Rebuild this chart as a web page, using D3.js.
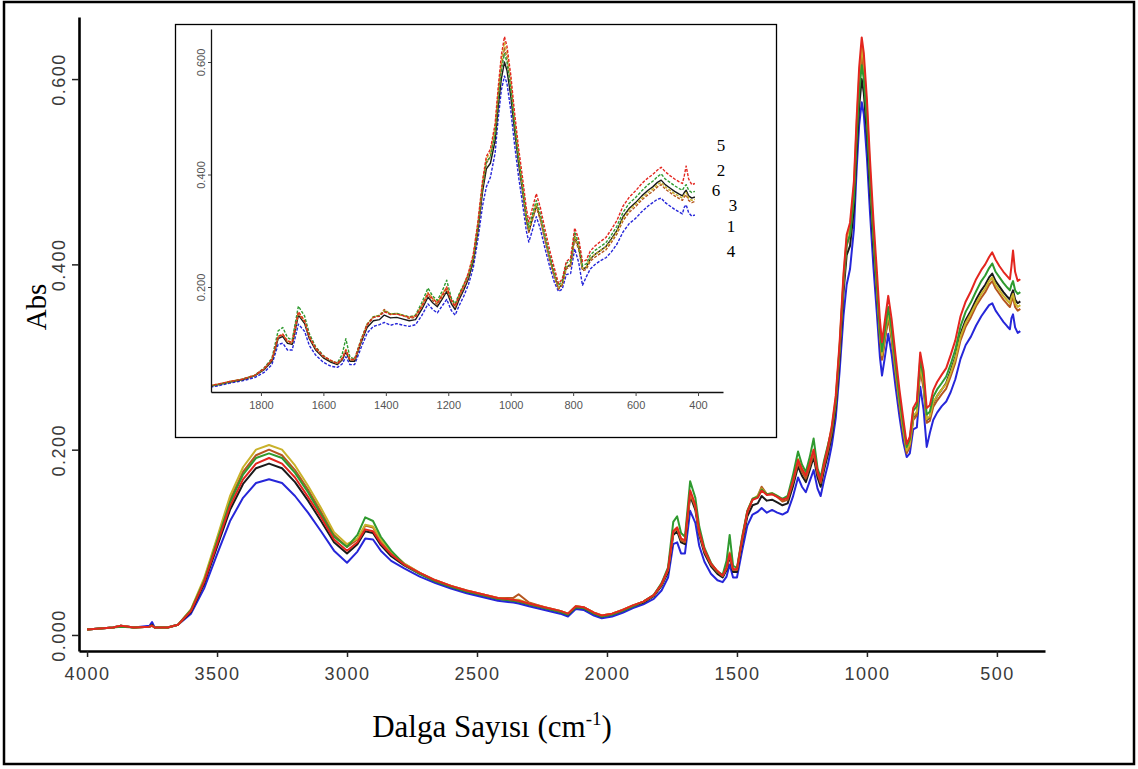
<!DOCTYPE html>
<html>
<head>
<meta charset="utf-8">
<script src="https://cdn.jsdelivr.net/npm/d3@7"></script>
<style>
html,body{margin:0;padding:0;background:#fff;}
svg{display:block;}
</style>
</head>
<body>
<svg id="chart" width="1138" height="769"></svg>
<script>
// ---------------- DATA ----------------
const wavenumbers = [
 4000,3900,3870,3820,3760,3750,3740,3690,3650,
 3600,3550,3500,3450,3400,3350,3300,3250,3200,3150,3100,3050,3000,
 2960,2930,2900,2870,2830,
 2780,2720,2660,2600,2540,2480,2420,2360,2340,2300,2240,2180,2150,2120,2090,2050,2020,1980,1940,1900,1860,1820,
 1790,1765,1745,1730,1715,1700,1680,1660,1645,1625,1600,1575,1555,1540,1528,1515,1500,1480,1460,1440,1420,1405,1385,1365,1345,1325,1305,1285,1265,1250,1235,1220,1205,1190,1178,1165,1150,
 1135,1120,1105,1090,1078,1065,1050,1040,1030,1020,1012,1000,988,975,962,950,942,932,918,905,890,875,860,847,835,822,808,795,782,770,758,745,730,712,695,678,660,640,620,600,580,560,545,530,518,505,490,475,460,450,444,438,430,420,410
];

const sample1 = [ // brown
 0.006,0.008,0.010,0.008,0.009,0.010,0.008,0.008,0.011,
 0.027,0.059,0.103,0.146,0.176,0.194,0.200,0.194,0.178,0.157,0.133,0.108,0.095,
 0.103,0.118,0.116,0.102,0.089,
 0.077,0.067,0.059,0.053,0.048,0.044,0.040,0.040,0.044,0.035,0.030,0.026,0.023,0.031,0.030,0.024,0.021,0.023,0.027,0.032,0.036,0.043,
 0.054,0.070,0.111,0.115,0.102,0.100,0.152,0.138,0.110,0.090,0.076,0.068,0.064,0.072,0.087,0.070,0.070,0.103,0.132,0.146,0.150,0.160,0.152,0.152,0.149,0.144,0.146,0.164,0.186,0.176,0.169,0.182,0.196,0.174,0.164,0.182,0.199,
 0.219,0.250,0.306,0.378,0.420,0.432,0.475,0.538,0.592,0.625,0.608,0.558,0.492,0.428,0.372,0.320,0.297,0.316,0.342,0.319,0.282,0.247,0.218,0.196,0.203,0.232,0.237,0.286,0.266,0.229,0.231,0.246,0.253,0.260,0.266,0.279,0.294,0.318,0.333,0.343,0.355,0.364,0.370,0.378,0.382,0.374,0.368,0.362,0.357,0.354,0.360,0.364,0.354,0.350,0.352
];
const sample2 = [ // green
 0.006,0.008,0.009,0.008,0.009,0.010,0.008,0.008,0.011,
 0.027,0.058,0.101,0.143,0.173,0.191,0.196,0.191,0.175,0.154,0.130,0.106,0.095,
 0.108,0.127,0.123,0.106,0.091,
 0.076,0.066,0.058,0.052,0.047,0.043,0.039,0.037,0.036,0.033,0.029,0.025,0.022,0.030,0.029,0.023,0.020,0.022,0.026,0.031,0.036,0.043,
 0.056,0.073,0.122,0.128,0.110,0.106,0.166,0.148,0.117,0.094,0.078,0.068,0.065,0.080,0.108,0.075,0.072,0.106,0.134,0.147,0.149,0.157,0.152,0.153,0.150,0.147,0.150,0.172,0.198,0.184,0.176,0.192,0.212,0.180,0.170,0.188,0.205,
 0.222,0.252,0.310,0.382,0.422,0.432,0.472,0.534,0.585,0.615,0.600,0.554,0.492,0.431,0.379,0.328,0.306,0.326,0.354,0.330,0.292,0.256,0.226,0.203,0.211,0.242,0.247,0.298,0.277,0.238,0.241,0.257,0.265,0.272,0.279,0.292,0.308,0.333,0.349,0.359,0.371,0.382,0.388,0.396,0.401,0.392,0.386,0.380,0.375,0.372,0.378,0.382,0.372,0.368,0.370
];
const sample3 = [ // olive
 0.006,0.008,0.010,0.008,0.009,0.010,0.008,0.008,0.011,
 0.028,0.061,0.105,0.150,0.181,0.200,0.205,0.200,0.183,0.161,0.137,0.111,0.098,
 0.104,0.119,0.117,0.103,0.090,
 0.077,0.067,0.059,0.053,0.048,0.044,0.040,0.038,0.038,0.034,0.030,0.026,0.023,0.031,0.030,0.024,0.021,0.023,0.027,0.032,0.036,0.043,
 0.055,0.071,0.112,0.116,0.104,0.102,0.155,0.140,0.112,0.092,0.077,0.069,0.064,0.073,0.089,0.071,0.071,0.104,0.134,0.147,0.150,0.158,0.152,0.153,0.150,0.146,0.149,0.167,0.190,0.180,0.172,0.186,0.200,0.178,0.167,0.186,0.204,
 0.224,0.255,0.312,0.386,0.428,0.440,0.484,0.548,0.602,0.635,0.618,0.568,0.500,0.434,0.378,0.325,0.302,0.322,0.348,0.325,0.287,0.252,0.222,0.199,0.206,0.236,0.241,0.291,0.271,0.233,0.236,0.251,0.258,0.265,0.271,0.283,0.298,0.322,0.337,0.347,0.358,0.368,0.374,0.382,0.386,0.378,0.372,0.366,0.361,0.358,0.364,0.368,0.358,0.354,0.356
];
const sample4 = [ // blue
 0.006,0.008,0.010,0.008,0.010,0.014,0.008,0.008,0.011,
 0.023,0.050,0.087,0.123,0.148,0.164,0.168,0.164,0.150,0.132,0.112,0.091,0.078,
 0.090,0.104,0.103,0.091,0.080,
 0.072,0.063,0.056,0.050,0.045,0.041,0.037,0.035,0.034,0.031,0.027,0.023,0.020,0.028,0.027,0.021,0.018,0.020,0.024,0.029,0.033,0.039,
 0.048,0.062,0.098,0.100,0.088,0.088,0.134,0.121,0.096,0.079,0.066,0.059,0.057,0.063,0.076,0.062,0.062,0.091,0.118,0.130,0.133,0.137,0.132,0.135,0.132,0.130,0.133,0.149,0.170,0.160,0.154,0.166,0.178,0.158,0.150,0.167,0.184,
 0.205,0.234,0.285,0.345,0.378,0.395,0.438,0.500,0.550,0.575,0.562,0.515,0.455,0.397,0.348,0.300,0.280,0.298,0.325,0.303,0.268,0.236,0.208,0.192,0.196,0.222,0.224,0.268,0.243,0.203,0.218,0.232,0.240,0.247,0.252,0.262,0.276,0.298,0.313,0.322,0.334,0.344,0.350,0.356,0.358,0.350,0.344,0.338,0.333,0.330,0.342,0.346,0.332,0.326,0.328
];
const sample5 = [ // red
 0.006,0.008,0.010,0.008,0.009,0.010,0.008,0.008,0.011,
 0.026,0.057,0.098,0.139,0.168,0.185,0.191,0.185,0.170,0.149,0.127,0.103,0.091,
 0.100,0.114,0.112,0.099,0.087,
 0.076,0.067,0.059,0.053,0.048,0.044,0.040,0.038,0.037,0.034,0.030,0.026,0.023,0.031,0.030,0.024,0.021,0.023,0.027,0.032,0.036,0.043,
 0.055,0.071,0.112,0.116,0.104,0.102,0.156,0.140,0.112,0.092,0.077,0.069,0.064,0.073,0.088,0.071,0.071,0.104,0.133,0.146,0.148,0.156,0.151,0.152,0.149,0.146,0.148,0.166,0.189,0.179,0.172,0.185,0.200,0.177,0.166,0.185,0.203,
 0.226,0.258,0.316,0.390,0.432,0.445,0.490,0.555,0.612,0.645,0.628,0.578,0.512,0.448,0.394,0.340,0.316,0.337,0.366,0.341,0.302,0.265,0.233,0.206,0.214,0.245,0.252,0.305,0.285,0.245,0.248,0.264,0.273,0.281,0.288,0.302,0.318,0.344,0.360,0.371,0.384,0.394,0.400,0.408,0.413,0.405,0.398,0.392,0.387,0.384,0.398,0.415,0.392,0.382,0.384
];
const sample6 = [ // black
 0.006,0.008,0.010,0.008,0.009,0.011,0.008,0.008,0.011,
 0.025,0.055,0.095,0.135,0.163,0.180,0.185,0.180,0.165,0.145,0.123,0.100,0.088,
 0.098,0.112,0.110,0.097,0.085,
 0.075,0.066,0.058,0.052,0.047,0.043,0.039,0.037,0.036,0.033,0.029,0.025,0.022,0.030,0.029,0.023,0.020,0.022,0.026,0.031,0.035,0.042,
 0.053,0.068,0.108,0.112,0.100,0.098,0.150,0.135,0.108,0.088,0.074,0.066,0.062,0.070,0.085,0.068,0.068,0.100,0.128,0.140,0.142,0.150,0.145,0.146,0.143,0.140,0.142,0.160,0.182,0.172,0.165,0.178,0.192,0.170,0.160,0.178,0.195,
 0.215,0.245,0.300,0.370,0.410,0.420,0.460,0.520,0.570,0.600,0.585,0.540,0.480,0.420,0.370,0.320,0.298,0.318,0.345,0.322,0.285,0.250,0.220,0.198,0.205,0.235,0.240,0.290,0.270,0.232,0.235,0.250,0.258,0.265,0.272,0.285,0.300,0.325,0.340,0.350,0.362,0.372,0.378,0.386,0.390,0.382,0.376,0.370,0.365,0.362,0.368,0.372,0.362,0.358,0.360
];

const seriesLabels = ["4","6","1","3","2","5"]; // draw order
const seriesColors = {"1":"#b5561f","2":"#2f9a2f","3":"#c9b22a","4":"#2626d9","5":"#e3261f","6":"#1a1a1a"};
const seriesValues = {"1":sample1,"2":sample2,"3":sample3,"4":sample4,"5":sample5,"6":sample6};

const mainXTicks = [4000,3500,3000,2500,2000,1500,1000,500];
const mainYTicks = [0,0.2,0.4,0.6];
const insetXTicks = [1800,1600,1400,1200,1000,800,600,400];
const insetYTicks = [0.2,0.4,0.6];
const insetLabelOrder = ["5","2","6","3","1","4"];

const xTitle = "Dalga Sayısı (cm";
const xTitleSup = "-1";
const yTitle = "Abs";

// ---------------- DRAW ----------------
const svg = d3.select("#chart");

svg.append("rect").attr("x",4).attr("y",2).attr("width",1130).attr("height",762)
  .attr("fill","#fff").attr("stroke","#000").attr("stroke-width",2.5);

const xMain = d3.scaleLinear().domain([4031, 315]).range([79, 1045]);
const yMain = d3.scaleLinear().domain([-0.0173, 0.667]).range([651, 17]);

const build = (xs, ys, vals) => d3.line()
  .x((d,i)=>xs(wavenumbers[i])).y(d=>ys(d))(vals);

// main lines
const gMain = svg.append("g");
seriesLabels.forEach(k=>{
  gMain.append("path").attr("d", build(xMain,yMain,seriesValues[k]))
    .attr("fill","none").attr("stroke",seriesColors[k]).attr("stroke-width",2)
    .attr("stroke-linejoin","round");
});

// main axes
const axX = svg.append("g").attr("transform","translate(0,651)")
  .call(d3.axisBottom(xMain).tickValues(mainXTicks).tickFormat(d3.format("d")).tickSize(6).tickSizeOuter(0));
axX.select(".domain").attr("stroke","#000").attr("stroke-width",2.6);
axX.selectAll(".tick line").attr("stroke","#222").attr("stroke-width",1.5);
axX.selectAll(".tick text").attr("y",16).attr("font-family","Liberation Sans, Arial, sans-serif")
  .attr("font-size",18).attr("letter-spacing",1.5).attr("fill","#3a3a3a");

const axY = svg.append("g").attr("transform","translate(79,0)")
  .call(d3.axisLeft(yMain).tickValues(mainYTicks).tickFormat(d3.format(".3f")).tickSize(7).tickSizeOuter(0));
axY.select(".domain").attr("stroke","#000").attr("stroke-width",2.6);
axY.selectAll(".tick line").attr("stroke","#222").attr("stroke-width",1.5);
axY.selectAll(".tick text").attr("transform","rotate(-90)").attr("x",0).attr("y",-14).attr("dy",0)
  .attr("text-anchor","middle").attr("font-family","Liberation Sans, Arial, sans-serif")
  .attr("font-size",18).attr("letter-spacing",1.5).attr("fill","#3a3a3a");

// titles
svg.append("text").attr("transform","translate(46,307) rotate(-90)").attr("text-anchor","middle")
  .attr("font-family","Liberation Serif, Times New Roman, serif").attr("font-size",29).attr("fill","#000").text(yTitle);
const xt = svg.append("text").attr("x",492).attr("y",737).attr("text-anchor","middle")
  .attr("font-family","Liberation Serif, Times New Roman, serif").attr("font-size",31).attr("fill","#000");
xt.append("tspan").text(xTitle);
xt.append("tspan").attr("font-size",19).attr("dy",-12).text(xTitleSup);
xt.append("tspan").attr("dy",12).text(")");

// ---------------- INSET ----------------
svg.append("rect").attr("x",175.5).attr("y",24.5).attr("width",601).attr("height",413)
  .attr("fill","#fff").attr("stroke","#000").attr("stroke-width",1.3);

const xIn = d3.scaleLinear().domain([1960, 320]).range([211, 723]);
const yIn = d3.scaleLinear().domain([0.0133, 0.6587]).range([392, 29]);

svg.append("clipPath").attr("id","inclip").append("rect").attr("x",211).attr("y",29).attr("width",512).attr("height",363);
const gIn = svg.append("g").attr("clip-path","url(#inclip)");
seriesLabels.forEach(k=>{
  gIn.append("path").attr("d", build(xIn,yIn,seriesValues[k]))
    .attr("fill","none").attr("stroke",seriesColors[k]).attr("stroke-width",1.4)
    .attr("stroke-dasharray", k==="6" ? null : "3,1.5").attr("stroke-linejoin","round");
});

const inX = svg.append("g").attr("transform","translate(0,392)")
  .call(d3.axisBottom(xIn).tickValues(insetXTicks).tickFormat(d3.format("d")).tickSize(4).tickSizeOuter(0));
inX.select(".domain").attr("stroke","#111").attr("stroke-width",1.3);
inX.selectAll(".tick line").attr("stroke","#444");
inX.selectAll(".tick text").attr("y",9).attr("font-family","Liberation Sans, Arial, sans-serif")
  .attr("font-size",11).attr("fill","#555");

const inY = svg.append("g").attr("transform","translate(211,0)")
  .call(d3.axisLeft(yIn).tickValues(insetYTicks).tickFormat(d3.format(".3f")).tickSize(3).tickSizeOuter(0));
inY.select(".domain").attr("stroke","#111").attr("stroke-width",1.3);
inY.selectAll(".tick line").attr("stroke","#444");
inY.selectAll(".tick text").attr("transform","rotate(-90)").attr("x",0).attr("y",-6).attr("dy",0)
  .attr("text-anchor","middle").attr("font-family","Liberation Sans, Arial, sans-serif")
  .attr("font-size",11).attr("fill","#555");

// sample number labels next to inset curve ends
const labelOffsets = [[721,151],[721,176],[716,196],[733,211],[731,232],[731,257]];
insetLabelOrder.forEach((lab,i)=>{
  svg.append("text").attr("x",labelOffsets[i][0]).attr("y",labelOffsets[i][1]).attr("text-anchor","middle")
    .attr("font-family","Liberation Serif, Times New Roman, serif").attr("font-size",17).attr("fill","#000").text(lab);
});
</script>
</body>
</html>
